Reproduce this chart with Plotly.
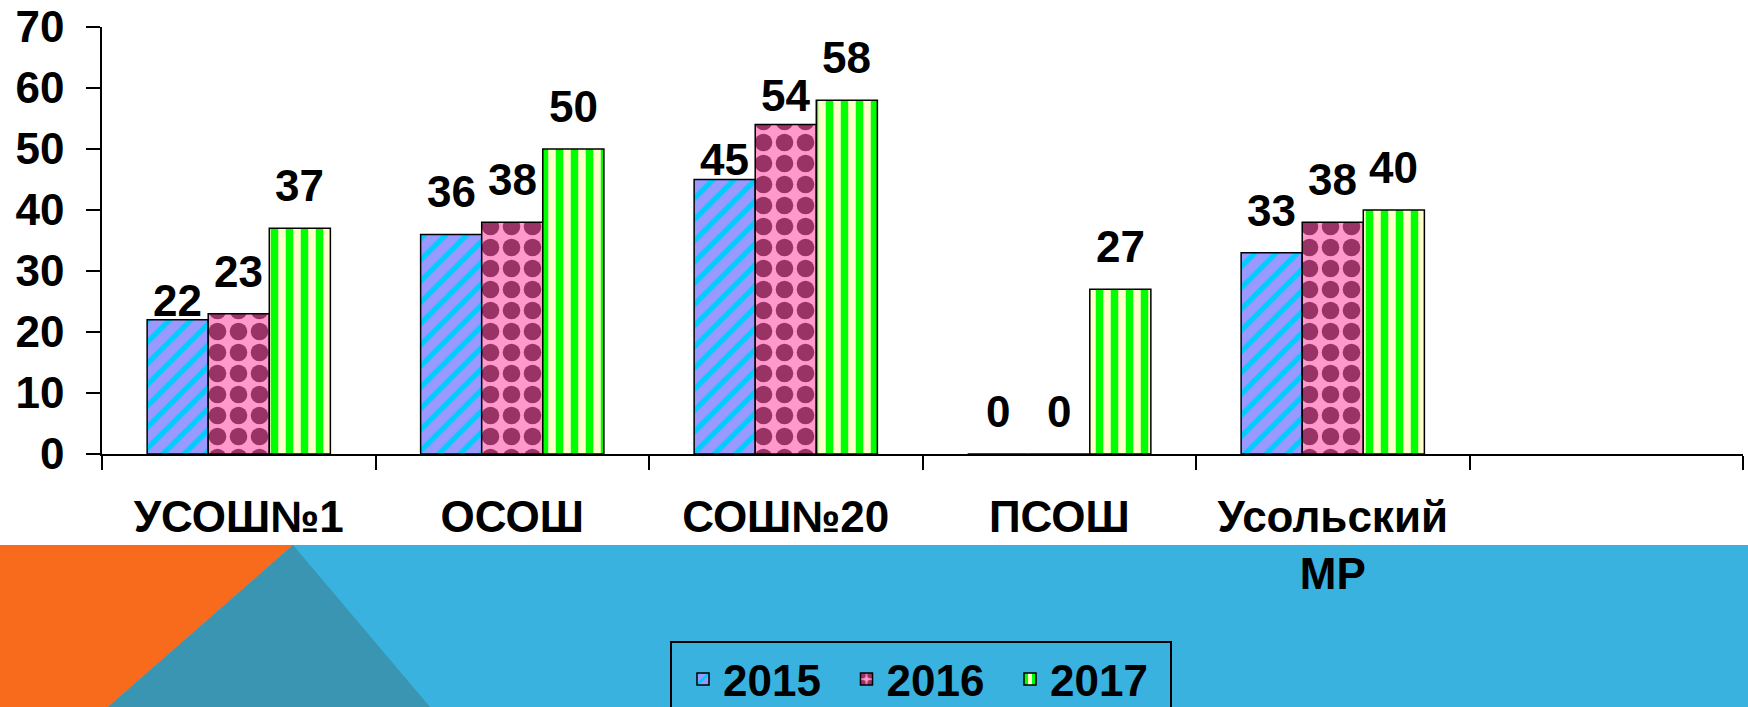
import plotly.graph_objects as go

# ---------------- data ----------------
categories = ["УСОШ№1", "ОСОШ", "СОШ№20", "ПСОШ", "Усольский<br>МР"]
years = ["2015", "2016", "2017"]
values_2015 = [22, 36, 45, 0, 33]
values_2016 = [23, 38, 54, 0, 38]
values_2017 = [37, 50, 58, 27, 40]
y_ticks = [0, 10, 20, 30, 40, 50, 60, 70]

# ---------------- style ----------------
W, H = 1748, 707
L, R, T, B = 102, 5, 27, 253
PW, PH = W - L - R, H - T - B
FONT = "Liberation Sans, Arial, sans-serif"
FS = 44
BARGAP = 0.33

styles = [
    dict(bg="#9999FF", fg="#00CCFF", shape="/", size=15, solidity=0.35),
    dict(bg="#FF99CC", fg="#993366", shape=".", size=21, solidity=0.55),
    dict(bg="#FFFFCC", fg="#00FF00", shape="|", size=15, solidity=0.5),
]
# gap (px) between bar top and label baseline; a few labels nudged as in original
DEFAULT_GAP = 26
gap_override = {(0, 0): 3, (2, 0): 4, (2, 1): 13}
DESCENT = 10  # approx distance from text baseline to annotation box bottom


def px_x(px):
    return (px - L) / PW


def px_y(py):
    return (H - B - py) / PH


series = [values_2015, values_2016, values_2017]
x_all = categories + [" "]

fig = go.Figure()
for k, (name, vals, st) in enumerate(zip(years, series, styles)):
    fig.add_trace(go.Bar(
        name=name,
        x=x_all,
        y=vals + [None],
        marker=dict(
            color=st["bg"],
            line=dict(color="black", width=1.5),
            pattern=dict(shape=st["shape"], fgcolor=st["fg"], bgcolor=st["bg"],
                         fgopacity=1, size=st["size"], solidity=st["solidity"],
                         fillmode="replace"),
        ),
    ))

# value labels
bw = (1 - BARGAP) / len(series)
annotations = []
for k, vals in enumerate(series):
    off = -(1 - BARGAP) / 2 + (k + 0.5) * bw
    for i, v in enumerate(vals):
        gap = gap_override.get((i, k), DEFAULT_GAP)
        annotations.append(dict(
            x=i + off, y=v, xref="x", yref="y", text=str(v), showarrow=False,
            yanchor="bottom", xanchor="center", yshift=gap - DESCENT,
            font=dict(family=FONT, size=FS, color="black", weight="bold"),
        ))

# background band at the bottom
band_top = 545
shapes = [
    dict(type="rect", xref="paper", yref="paper", layer="below",
         x0=px_x(0), x1=px_x(W), y0=px_y(H), y1=px_y(band_top),
         fillcolor="#3AB2E0", line=dict(width=0)),
    dict(type="path", xref="paper", yref="paper", layer="below",
         path=f"M{px_x(0)},{px_y(band_top)} L{px_x(293)},{px_y(band_top)} "
              f"L{px_x(108)},{px_y(H)} L{px_x(0)},{px_y(H)} Z",
         fillcolor="#F86B1D", line=dict(width=0)),
    dict(type="path", xref="paper", yref="paper", layer="below",
         path=f"M{px_x(293)},{px_y(band_top)} L{px_x(108)},{px_y(H)} "
              f"L{px_x(430)},{px_y(H)} Z",
         fillcolor="#3A95B3", line=dict(width=0)),
    # legend frame
    dict(type="rect", xref="paper", yref="paper", layer="above",
         x0=px_x(671), x1=px_x(1171), y0=px_y(H + 4), y1=px_y(642),
         fillcolor="rgba(0,0,0,0)", line=dict(color="black", width=2)),
]

fig.update_layout(
    width=W, height=H,
    margin=dict(l=L, r=R, t=T, b=B, autoexpand=False),
    paper_bgcolor="white", plot_bgcolor="white",
    barmode="group", bargap=BARGAP, bargroupgap=0,
    font=dict(family=FONT, size=FS, color="black", weight="bold"),
    showlegend=True,
    legend=dict(
        orientation="h", x=px_x(683), xanchor="left", y=px_y(644), yanchor="top",
        bgcolor="rgba(0,0,0,0)", borderwidth=0, entrywidth=118.5,
        font=dict(family=FONT, size=FS, color="black", weight="bold"),
        itemclick=False,
    ),
    annotations=annotations,
    shapes=shapes,
)

fig.update_xaxes(
    type="category", categoryorder="array", categoryarray=x_all,
    showline=True, linecolor="black", linewidth=1.5,
    ticks="outside", tickson="boundaries", ticklen=14, tickwidth=1.5, tickcolor="black",
    showgrid=False, zeroline=False, ticklabelstandoff=23,
    tickfont=dict(family=FONT, size=FS, color="black", weight="bold"),
)
fig.update_yaxes(
    range=[0, 70], tickvals=y_ticks, showline=True, linecolor="black", linewidth=1.5,
    ticks="outside", ticklen=14, tickwidth=1.5, tickcolor="black",
    showgrid=False, zeroline=False, ticklabelstandoff=13,
    tickfont=dict(family=FONT, size=FS, color="black", weight="bold"),
)

fig.write_html("out.html", config={"displayModeBar": False},
               post_script="document.body.style.margin='0';")
